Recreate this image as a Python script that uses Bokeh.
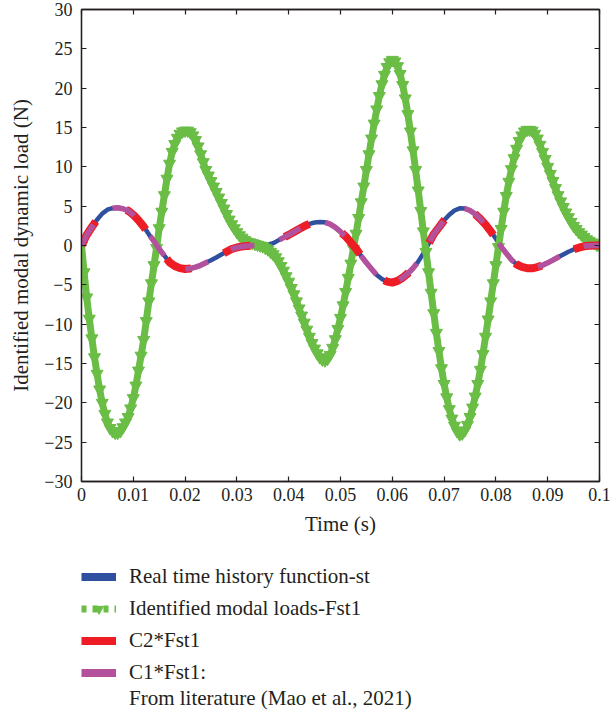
from bokeh.plotting import figure
from bokeh.layouts import column
from bokeh.models import Range1d, LinearAxis, FixedTicker, Legend, LegendItem
from bokeh.embed import file_html
from bokeh.resources import INLINE

# ---------------- data ----------------
t_step_st = 0.001   # sampling of the real time history (s)
st_real = [
    0.00, 1.33, 2.35, 3.28, 4.05, 4.55, 4.75, 4.80, 4.68, 4.42,
    3.90, 3.20, 2.40, 1.42, 0.53, -0.45, -1.30, -2.15, -2.60, -2.88,
    -2.99, -2.92, -2.75, -2.52, -2.20, -1.88, -1.52, -1.15, -0.80, -0.45,
    -0.25, -0.12, -0.05, 0.00, 0.02, 0.05, 0.10, 0.30, 0.65, 1.00,
    1.35, 1.72, 2.10, 2.45, 2.75, 2.92, 2.98, 2.95, 2.72, 2.30,
    1.75, 1.15, 0.38, -0.40, -1.35, -2.20, -2.98, -3.75, -4.26, -4.60,
    -4.72, -4.50, -4.10, -3.55, -2.90, -2.05, -1.00, 0.20, 1.45, 2.30,
    3.20, 3.90, 4.45, 4.72, 4.70, 4.45, 4.00, 3.37, 2.65, 1.80,
    0.85, -0.15, -1.00, -1.80, -2.40, -2.72, -2.88, -2.90, -2.75, -2.50,
    -2.20, -1.85, -1.50, -1.15, -0.80, -0.50, -0.28, -0.10, -0.02, 0.00,
    0.00,
]
# C2*Fst1 and C1*Fst1 coincide with the real history in the picture
c2_fst1 = list(st_real)
c1_fst1 = list(st_real)

t_step_fst1 = 0.0005   # sampling of the identified modal load (s)
fst1 = [
    0.0, -3.4, -6.6, -9.3, -11.8, -14.2, -16.3, -18.3, -20.0, -21.4,
    -22.5, -23.2, -23.6, -23.8, -23.8, -23.6, -23.1, -22.5, -21.8, -20.7,
    -19.4, -17.8, -15.9, -14.0, -12.0, -9.6, -7.1, -4.8, -2.5, -0.3,
    2.2, 4.3, 6.4, 8.5, 10.4, 11.9, 12.9, 13.7, 14.2, 14.5,
    14.6, 14.6, 14.4, 14.0, 13.4, 12.6, 11.6, 10.6, 9.6, 8.9,
    8.2, 7.5, 6.8, 6.1, 5.4, 4.7, 4.0, 3.3, 2.7, 2.2,
    1.7, 1.3, 1.0, 0.7, 0.5, 0.4, 0.3, 0.2, 0.1, 0.0,
    -0.1, -0.3, -0.5, -0.8, -1.1, -1.5, -2.0, -2.6, -3.2, -3.9,
    -4.6, -5.4, -6.2, -7.1, -8.0, -8.9, -9.8, -10.7, -11.6, -12.4,
    -13.1, -13.7, -14.2, -14.5, -14.6, -14.4, -13.9, -13.0, -11.9, -10.6,
    -9.2, -7.6, -5.9, -4.1, -2.3, -0.4, 1.5, 3.5, 5.5, 7.5,
    9.6, 11.6, 13.6, 15.5, 17.3, 19.0, 20.5, 21.7, 22.7, 23.3,
    23.6, 23.4, 22.8, 21.8, 20.4, 18.7, 16.7, 14.5, 12.1, 9.6,
    7.0, 4.4, 1.8, -0.8, -3.4, -6.0, -8.6, -11.1, -13.4, -15.6,
    -17.6, -19.3, -20.8, -22.0, -22.9, -23.6, -24.0, -23.9, -23.5, -22.8,
    -21.8, -20.6, -19.2, -17.6, -15.8, -13.8, -11.6, -9.4, -7.1, -4.8,
    -2.5, -0.2, 2.1, 4.3, 6.3, 8.1, 9.7, 11.1, 12.3, 13.3,
    14.0, 14.5, 14.7, 14.7, 14.6, 14.2, 13.6, 12.8, 11.9, 11.0,
    10.0, 9.1, 8.2, 7.3, 6.4, 5.6, 4.9, 4.2, 3.6, 3.0,
    2.5, 2.1, 1.7, 1.4, 1.1, 0.8, 0.6, 0.4, 0.3, 0.1,
    0.0,
]

x_ticks = [0, 0.01, 0.02, 0.03, 0.04, 0.05, 0.06, 0.07, 0.08, 0.09, 0.1]
x_tick_labels = ["0", "0.01", "0.02", "0.03", "0.04", "0.05", "0.06", "0.07", "0.08", "0.09", "0.1"]
y_ticks = [-30, -25, -20, -15, -10, -5, 0, 5, 10, 15, 20, 25, 30]

series_labels = [
    "Real time history function-st",
    "Identified modal loads-Fst1",
    "C2*Fst1",
    "C1*Fst1:",
    "From literature (Mao et al., 2021)",
]

t_st = [i * t_step_st for i in range(len(st_real))]
t_fst1 = [i * t_step_fst1 for i in range(len(fst1))]

# ---------------- styling ----------------
BLUE = "#2f4f9f"
GREEN = "#6abd45"
RED = "#ee1d25"
MAGENTA = "#b3519c"
INK = "#231f20"
FONT = "Liberation Serif"

W = 611
H_CHART = 545
H_LEGEND = 166

p = figure(width=W, height=H_CHART,
           x_range=Range1d(0, 0.1), y_range=Range1d(-30, 30),
           output_backend="svg", toolbar_location=None,
           min_border_left=81, min_border_right=12,
           min_border_top=9, min_border_bottom=64)
p.grid.visible = False
p.outline_line_color = INK
p.outline_line_width = 1.3
p.background_fill_color = "white"
p.border_fill_color = "white"

def style_axis(ax):
    ax.axis_line_color = INK
    ax.axis_line_width = 1.3
    ax.major_tick_line_color = INK
    ax.major_tick_line_width = 1.2
    ax.major_tick_in = 5
    ax.major_tick_out = 0
    ax.minor_tick_line_color = None
    ax.major_label_text_font = FONT
    ax.major_label_text_font_size = "18px"
    ax.major_label_text_color = INK
    ax.axis_label_text_font = FONT
    ax.axis_label_text_font_size = "21px"
    ax.axis_label_text_font_style = "normal"
    ax.axis_label_text_color = INK

xax = p.xaxis[0]
style_axis(xax)
xax.ticker = FixedTicker(ticks=x_ticks)
xax.major_label_overrides = dict(zip(x_ticks, x_tick_labels))
xax.major_label_standoff = 6
xax.axis_label = "Time (s)"
xax.axis_label_standoff = 8

yax = p.yaxis[0]
style_axis(yax)
yax.ticker = FixedTicker(ticks=y_ticks)
yax.major_label_standoff = 9
yax.axis_label = "Identified modal dynamic load (N)"
yax.axis_label_standoff = 8

top = LinearAxis(ticker=FixedTicker(ticks=x_ticks))
style_axis(top)
top.major_label_overrides = {v: "" for v in x_ticks}
top.major_label_text_font_size = "0px"
top.major_label_standoff = 0
p.add_layout(top, "above")

right = LinearAxis(ticker=FixedTicker(ticks=y_ticks))
style_axis(right)
right.major_label_overrides = {v: "" for v in y_ticks}
right.major_label_text_font_size = "0px"
right.major_label_standoff = 0
p.add_layout(right, "right")

# ---------------- series ----------------
p.line(t_st, st_real, line_color=BLUE, line_width=4.5)
p.line(t_fst1, fst1, line_color=GREEN, line_width=7)
p.scatter(t_fst1, fst1, marker="inverted_triangle", size=12,
          fill_color=GREEN, line_color=GREEN)
p.line(t_st, c2_fst1, line_color=RED, line_width=8, line_dash="28 36")
p.line(t_st, c1_fst1, line_color=MAGENTA, line_width=5.5, line_dash="24 26")

# ---------------- legend (own strip below the chart) ----------------
# the strip's y range lies far away from the data, so its copies of the
# series are clipped away and only serve as legend swatches
q = figure(width=W, height=H_LEGEND, x_range=Range1d(0, 0.1), y_range=Range1d(100, 101),
           output_backend="svg", toolbar_location=None,
           x_axis_location=None, y_axis_location=None, min_border=0)
q.grid.visible = False
q.outline_line_color = None
q.background_fill_color = "white"
q.border_fill_color = "white"

lg_blue = q.line(t_st, st_real, line_color=BLUE, line_width=8)
lg_green_l = q.line(t_fst1, fst1, line_color=GREEN, line_width=7, line_dash="5 6")
lg_green_m = q.scatter(t_fst1, fst1, marker="inverted_triangle", size=9,
                       fill_color=GREEN, line_color=GREEN)
lg_red = q.line(t_st, c2_fst1, line_color=RED, line_width=8)
lg_mag = q.line(t_st, c1_fst1, line_color=MAGENTA, line_width=8)
lg_none = q.line(t_st, c1_fst1, line_alpha=0)

def style_legend(lg):
    lg.label_text_font = FONT
    lg.label_text_font_size = "21px"
    lg.label_text_color = INK
    lg.glyph_width = 35
    lg.glyph_height = 23
    lg.label_height = 23
    lg.label_standoff = 13
    lg.spacing = 7
    lg.padding = 0
    lg.margin = 0
    lg.border_line_color = None
    lg.background_fill_alpha = 0

legend_main = Legend(items=[
    LegendItem(label=series_labels[0], renderers=[lg_blue]),
    LegendItem(label=series_labels[1], renderers=[lg_green_l, lg_green_m]),
    LegendItem(label=series_labels[2], renderers=[lg_red]),
    LegendItem(label=series_labels[3], renderers=[lg_mag]),
], location=(0, 26))
style_legend(legend_main)
q.add_layout(legend_main)

legend_note = Legend(items=[
    LegendItem(label=series_labels[4], renderers=[lg_none]),
], location=(0, 0))
style_legend(legend_note)
q.add_layout(legend_note)

open("out.html", "w").write(file_html(column(p, q, spacing=0), INLINE))
